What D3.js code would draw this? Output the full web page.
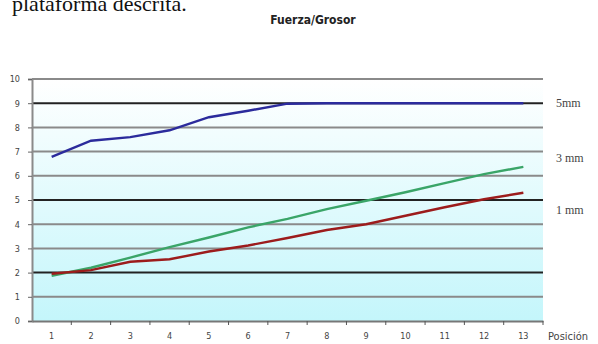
<!DOCTYPE html>
<html><head><meta charset="utf-8">
<script src="https://cdn.jsdelivr.net/npm/d3@7"></script>
<style>body{margin:0;background:#fff}svg{display:block}</style>
</head><body>
<svg id="c" width="598" height="344"></svg>
<script>
const positions = ["1","2","3","4","5","6","7","8","9","10","11","12","13"];
const yTicks = [0,1,2,3,4,5,6,7,8,9,10];
const darkLines = [2,5,9];
const s5mm = [6.78,7.45,7.6,7.88,8.42,8.69,8.98,9.0,9.0,9.0,9.0,9.0,9.0];
const s3mm = [1.87,2.2,2.62,3.05,3.45,3.87,4.22,4.62,4.97,5.32,5.7,6.07,6.37];
const s1mm = [1.95,2.1,2.45,2.55,2.87,3.12,3.43,3.76,4.0,4.35,4.7,5.03,5.3];
const seriesNames = ["5mm","3 mm","1 mm"];
const seriesColors = ["#2b2b9c","#3aa568","#9c1c1c"];

(function(){
const svg = d3.select("#c");
const pL = 32, pR = 543, pT = 79, pB = 321;
const x = d3.scaleBand().domain(positions).range([pL, pR]);
const y = d3.scaleLinear().domain([0,10]).range([pB, pT]);

// caption text cut at top (as in the reference)
svg.append("text").attr("x", 12).attr("y", 11)
  .attr("font-family","Liberation Serif, Times New Roman, serif").attr("font-size", 22)
  .attr("fill","#111").text("plataforma descrita.");

// background gradient
const defs = svg.append("defs");
const g = defs.append("linearGradient").attr("id","bg").attr("x1",0).attr("y1",0).attr("x2",0).attr("y2",1);
g.append("stop").attr("offset","0%").attr("stop-color","#ffffff");
g.append("stop").attr("offset","100%").attr("stop-color","#c4f6fb");
svg.append("rect").attr("x", pL).attr("y", pT).attr("width", pR-pL).attr("height", pB-pT)
  .attr("fill","url(#bg)");

// gridlines
svg.append("g").selectAll("line").data(yTicks.filter(d=>d>0)).join("line")
  .attr("x1", pL).attr("x2", pR).attr("y1", d=>y(d)).attr("y2", d=>y(d))
  .attr("stroke", d=>darkLines.includes(d) ? "#222" : "#8a8a8a")
  .attr("stroke-width", 2);

// y axis
const ya = svg.append("g").attr("transform",`translate(${pL},0)`)
  .call(d3.axisLeft(y).tickValues(yTicks).tickSize(4).tickPadding(8).tickFormat(d3.format("d")));
ya.select(".domain").attr("stroke","#8a8a8a").attr("stroke-width",2);
ya.selectAll(".tick line").attr("stroke","#666");
ya.selectAll("text").attr("font-family","DejaVu Sans Condensed, sans-serif").attr("font-size",9)
  .attr("fill","#444").attr("x", -12);

// x axis
const xa = svg.append("g").attr("transform",`translate(0,${pB})`)
  .call(d3.axisBottom(x).tickSize(0).tickPadding(12));
xa.select(".domain").attr("stroke","#777").attr("stroke-width",2);
xa.selectAll("text").attr("font-family","DejaVu Sans Condensed, sans-serif").attr("font-size",9).attr("fill","#444");
// ticks between categories
svg.append("g").selectAll("line").data(positions).join("line")
  .attr("x1", d=>x(d)+x.bandwidth()).attr("x2", d=>x(d)+x.bandwidth())
  .attr("y1", pB).attr("y2", pB+4).attr("stroke","#555");

// lines
const line = d3.line().x((d,i)=>x(positions[i])+x.bandwidth()/2).y(d=>y(d));
[s5mm,s3mm,s1mm].forEach((s,k)=>{
  svg.append("path").datum(s).attr("d", line).attr("fill","none")
    .attr("stroke", seriesColors[k]).attr("stroke-width", 2.4);
});

// right labels
const labY = [103, 158, 210];
seriesNames.forEach((n,k)=>{
  svg.append("text").attr("x", 556).attr("y", labY[k]+4)
    .attr("font-family","Liberation Serif, serif").attr("font-size", 12)
    .attr("fill","#444").text(n);
});

// title
svg.append("text").attr("x", 313).attr("y", 24).attr("text-anchor","middle")
  .attr("font-family","DejaVu Sans Condensed, sans-serif").attr("font-weight","bold")
  .attr("font-size", 12).attr("fill","#222").text("Fuerza/Grosor");

// axis title
svg.append("text").attr("x", 548).attr("y", 340)
  .attr("font-family","DejaVu Sans Condensed, sans-serif").attr("font-size", 11)
  .attr("fill","#444").text("Posición");
})();
</script>
</body></html>
